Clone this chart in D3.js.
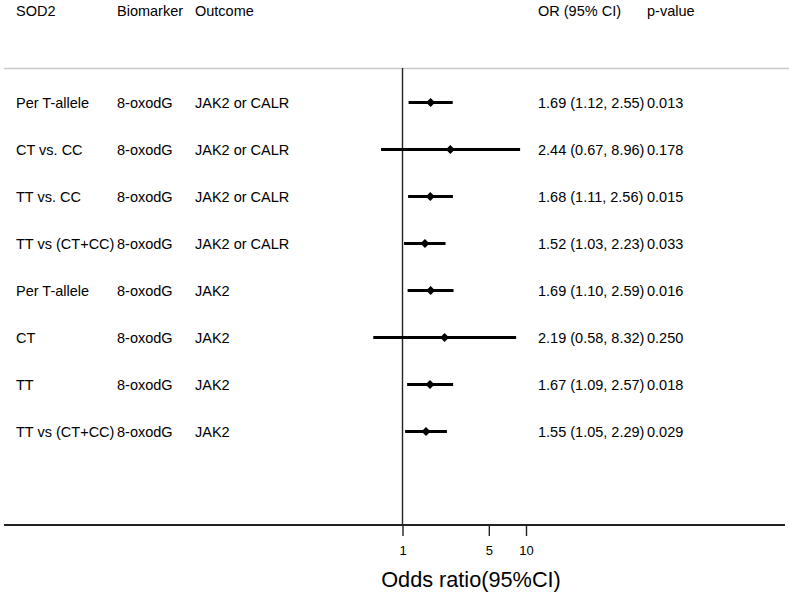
<!DOCTYPE html>
<html>
<head>
<meta charset="utf-8">
<script src="https://cdn.jsdelivr.net/npm/d3@7"></script>
<style>
body { margin: 0; background: #fff; }
text { font-family: "Liberation Sans", Arial, sans-serif; fill: #000; }
</style>
</head>
<body>
<div id="chart"></div>
<script>
// rows of the forest plot
var sod2 = ["Per T-allele", "CT vs. CC", "TT vs. CC", "TT vs (CT+CC)", "Per T-allele", "CT", "TT", "TT vs (CT+CC)"];
var biomarker = ["8-oxodG", "8-oxodG", "8-oxodG", "8-oxodG", "8-oxodG", "8-oxodG", "8-oxodG", "8-oxodG"];
var outcome = ["JAK2 or CALR", "JAK2 or CALR", "JAK2 or CALR", "JAK2 or CALR", "JAK2", "JAK2", "JAK2", "JAK2"];
var or = [1.69, 2.44, 1.68, 1.52, 1.69, 2.19, 1.67, 1.55];
var lower = [1.12, 0.67, 1.11, 1.03, 1.10, 0.58, 1.09, 1.05];
var upper = [2.55, 8.96, 2.56, 2.23, 2.59, 8.32, 2.57, 2.29];
var pvalue = ["0.013", "0.178", "0.015", "0.033", "0.016", "0.250", "0.018", "0.029"];
var xTicks = [1, 5, 10];

var width = 789, height = 595;
var fs = "14.5px";

var svg = d3.select("#chart").append("svg")
    .attr("width", width)
    .attr("height", height);

var x = d3.scaleLog().domain([1, 10]).range([402.5, 526]);
var y = d3.scaleLinear().domain([0, 7]).range([102.5, 431.5]);

var fmt = d3.format(".2f");

// header
var header = [["SOD2", 16], ["Biomarker", 117], ["Outcome", 195], ["OR (95% CI)", 538], ["p-value", 647]];
svg.selectAll("text.head")
    .data(header)
    .enter().append("text")
    .attr("class", "head")
    .attr("x", function(d) { return d[1]; })
    .attr("y", 15.5)
    .style("font-size", fs)
    .text(function(d) { return d[0]; });

// light line under header
svg.append("line")
    .attr("x1", 4).attr("x2", 789)
    .attr("y1", 68.5).attr("y2", 68.5)
    .attr("stroke", "#c8c8c8")
    .attr("stroke-width", 1.5);

// reference line at OR = 1
svg.append("line")
    .attr("x1", x(1)).attr("x2", x(1))
    .attr("y1", 68).attr("y2", 525)
    .attr("stroke", "#222")
    .attr("stroke-width", 1.4);

// bottom axis
svg.append("line")
    .attr("x1", 4).attr("x2", 785)
    .attr("y1", 525).attr("y2", 525)
    .attr("stroke", "#222")
    .attr("stroke-width", 1.8);

var axis = d3.axisBottom(x)
    .tickValues(xTicks)
    .tickFormat(d3.format("d"))
    .tickSize(11)
    .tickPadding(10);

var gAxis = svg.append("g")
    .attr("transform", "translate(0,525)")
    .call(axis);
gAxis.select(".domain").remove();
gAxis.selectAll(".tick line").attr("stroke", "#222").attr("stroke-width", 1.4);
gAxis.selectAll(".tick text")
    .style("font-family", "'Liberation Sans', Arial, sans-serif")
    .style("font-size", "13px")
    .attr("fill", "#000");

svg.append("text")
    .attr("x", 471)
    .attr("y", 587)
    .attr("text-anchor", "middle")
    .style("font-size", "21.7px")
    .text("Odds ratio(95%CI)");

// rows
var rows = svg.selectAll("g.row")
    .data(or)
    .enter().append("g")
    .attr("class", "row")
    .attr("transform", function(d, i) { return "translate(0," + y(i) + ")"; });

function addCol(xPos, getText) {
    rows.append("text").attr("x", xPos).attr("y", 5.5).style("font-size", fs)
        .text(getText);
}
addCol(16, function(d, i) { return sod2[i]; });
addCol(117, function(d, i) { return biomarker[i]; });
addCol(195, function(d, i) { return outcome[i]; });
addCol(538, function(d, i) { return fmt(d) + " (" + fmt(lower[i]) + ", " + fmt(upper[i]) + ")"; });
addCol(647, function(d, i) { return pvalue[i]; });

rows.append("line")
    .attr("x1", function(d, i) { return x(lower[i]); })
    .attr("x2", function(d, i) { return x(upper[i]); })
    .attr("y1", 0).attr("y2", 0)
    .attr("stroke", "#000")
    .attr("stroke-width", 3);

rows.append("path")
    .attr("d", d3.symbol().type(d3.symbolDiamond2).size(52))
    .attr("transform", function(d) { return "translate(" + x(d) + ",0)"; })
    .attr("fill", "#000");
</script>
</body>
</html>
